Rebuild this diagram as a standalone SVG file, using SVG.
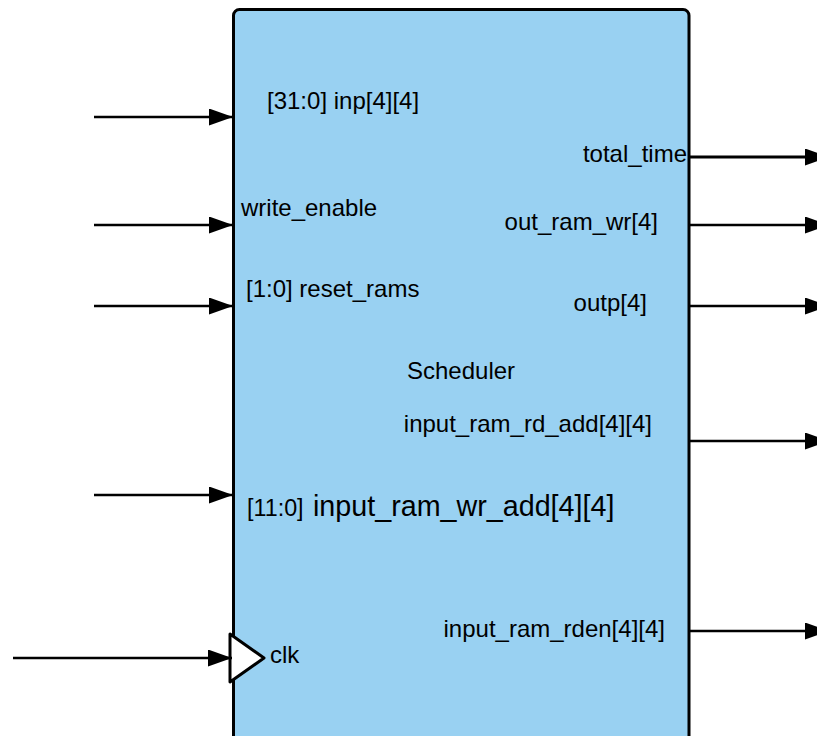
<svg xmlns="http://www.w3.org/2000/svg" width="817" height="736" viewBox="0 0 817 736">
  <style>
    .wire { stroke: #000; stroke-width: 2.5; fill: none; }
    .lbl { font-family: "Liberation Sans", Arial, sans-serif; font-size: 24px; fill: #000; }
    .lbl.small { font-size: 23.3px; }
    .lbl.big { font-size: 28.7px; }
  </style>
  <defs>
    <marker id="arrow" markerUnits="userSpaceOnUse" markerWidth="26" markerHeight="18" refX="24" refY="8.5" orient="auto">
      <path d="M0,0 L24,8.5 L0,17 Z" fill="#000"/>
    </marker>
  </defs>
  <rect width="817" height="736" fill="#fff"/>

  <g id="scheduler">
    <rect x="233.5" y="9.5" width="455.5" height="740" rx="6" ry="6" fill="#99d1f2" stroke="#000" stroke-width="3"/>
    <text class="lbl" x="407" y="379">Scheduler</text>
    <text class="lbl" x="267" y="109">[31:0] inp[4][4]</text>
    <text class="lbl" x="241" y="216">write_enable</text>
    <text class="lbl" x="246" y="297">[1:0] reset_rams</text>
    <text class="lbl small" x="247" y="516">[11:0]</text>
    <text class="lbl big" x="313" y="516">input_ram_wr_add[4][4]</text>
    <text class="lbl" x="270" y="663">clk</text>
    <text class="lbl" x="687" y="162" text-anchor="end">total_time</text>
    <text class="lbl" x="658" y="230" text-anchor="end">out_ram_wr[4]</text>
    <text class="lbl" x="647" y="311" text-anchor="end">outp[4]</text>
    <text class="lbl" x="652" y="432" text-anchor="end">input_ram_rd_add[4][4]</text>
    <text class="lbl" x="665" y="637" text-anchor="end">input_ram_rden[4][4]</text>
    <!-- clock input triangle -->
    <path d="M230,634 L264,658 L230,682 Z" fill="#fff" stroke="#000" stroke-width="3" stroke-linejoin="round"/>
  </g>

  <g id="connectors">
    <line class="wire" x1="94" y1="117" x2="233" y2="117" marker-end="url(#arrow)"/>
    <line class="wire" x1="94" y1="225" x2="233" y2="225" marker-end="url(#arrow)"/>
    <line class="wire" x1="94" y1="306" x2="233" y2="306" marker-end="url(#arrow)"/>
    <line class="wire" x1="94" y1="495" x2="233" y2="495" marker-end="url(#arrow)"/>
    <line class="wire" x1="13" y1="658" x2="232" y2="658" marker-end="url(#arrow)"/>
    <line class="wire" x1="690" y1="157" x2="829" y2="157" marker-end="url(#arrow)" style="stroke-width:3"/>
    <line class="wire" x1="690" y1="225" x2="829" y2="225" marker-end="url(#arrow)"/>
    <line class="wire" x1="690" y1="306" x2="829" y2="306" marker-end="url(#arrow)"/>
    <line class="wire" x1="690" y1="441" x2="829" y2="441" marker-end="url(#arrow)"/>
    <line class="wire" x1="690" y1="631" x2="829" y2="631" marker-end="url(#arrow)"/>
  </g>
</svg>
